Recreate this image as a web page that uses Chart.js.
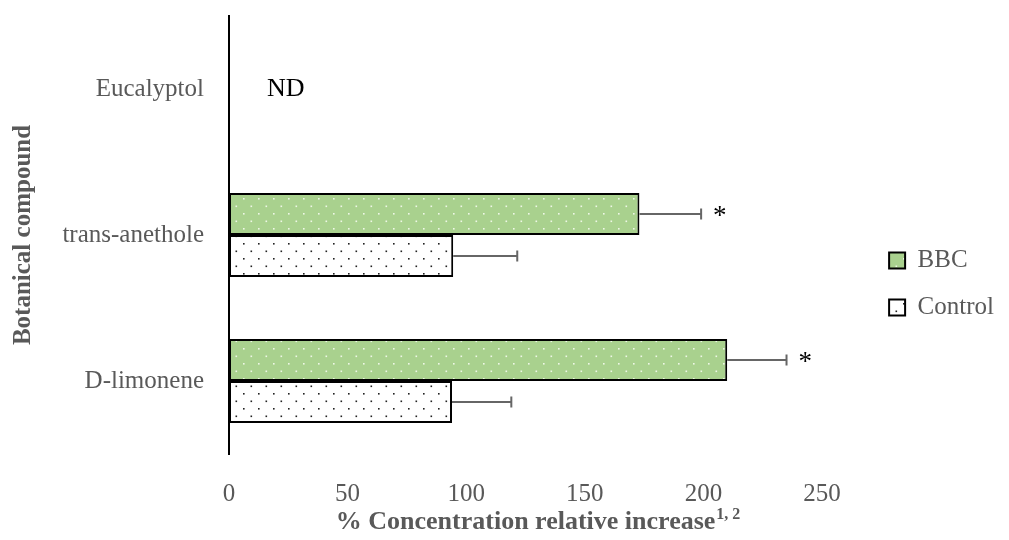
<!DOCTYPE html>
<html>
<head>
<meta charset="utf-8">
<script src="https://cdn.jsdelivr.net/npm/chart.js@4"></script>
<style>
  html, body { margin: 0; padding: 0; background: #fff; }
  #wrap { width: 1009px; height: 540px; }
</style>
</head>
<body>
<div id="wrap"><canvas id="chart" width="1009" height="540"></canvas></div>
<script>
const compounds = ['Eucalyptol', 'trans-anethole', 'D-limonene'];
const bbcValues = [null, 173, 210];
const bbcErrors = [null, 26, 25];
const controlValues = [null, 94.5, 94];
const controlErrors = [null, 27, 25];
const bbcSignificant = [false, true, true];
const notDetected = [true, false, false];
const xTicks = [0, 50, 100, 150, 200, 250];

const FONT = '"Liberation Serif", "DejaVu Serif", serif';
const GREY = '#595959';

// small dotted tiles used as bar fills
function dotPattern(bg, dot) {
    const tile = document.createElement('canvas');
    tile.width = 15;
    tile.height = 15;
    const t = tile.getContext('2d');
    t.fillStyle = bg;
    t.fillRect(0, 0, 15, 15);
    t.fillStyle = dot;
    t.fillRect(3, 3, 1.6, 1.6);
    t.fillRect(10.5, 10.5, 1.6, 1.6);
    return t.createPattern(tile, 'repeat');
}

const ctx = document.getElementById('chart').getContext('2d');
const bbcFill = dotPattern('#a9d18e', '#eef7e6');
const controlFill = dotPattern('#ffffff', '#222222');

// error bars, significance stars and the ND note
const barExtras = {
    id: 'barExtras',
    afterDatasetsDraw(chart) {
        const c = chart.ctx;
        const x = chart.scales.x;
        const y = chart.scales.y;
        const errs = [bbcErrors, controlErrors];
        c.save();
        chart.data.datasets.forEach((ds, di) => {
            const meta = chart.getDatasetMeta(di);
            meta.data.forEach((bar, i) => {
                const v = ds.data[i];
                if (v == null) return;
                const x0 = x.getPixelForValue(v);
                const x1 = x.getPixelForValue(v + errs[di][i]);
                c.strokeStyle = '#666666';
                c.lineWidth = 2;
                c.beginPath();
                c.moveTo(x0, bar.y);
                c.lineTo(x1, bar.y);
                c.moveTo(x1, bar.y - 5.5);
                c.lineTo(x1, bar.y + 5.5);
                c.stroke();
                if (di === 0 && bbcSignificant[i]) {
                    c.fillStyle = '#000';
                    c.font = '27px ' + FONT;
                    c.textAlign = 'left';
                    c.textBaseline = 'middle';
                    c.fillText('*', x1 + 12, bar.y + 3);
                }
            });
        });
        notDetected.forEach((nd, i) => {
            if (!nd) return;
            c.fillStyle = '#000';
            c.font = '26px ' + FONT;
            c.textAlign = 'left';
            c.textBaseline = 'middle';
            c.fillText('ND', x.getPixelForValue(0) + 38, y.getPixelForValue(i));
        });
        c.restore();
    }
};

// superscript footnote marks after the x axis title
const titleSup = {
    id: 'titleSup',
    afterDraw(chart) {
        const x = chart.scales.x;
        const t = x.options.title;
        const c = chart.ctx;
        c.save();
        c.font = 'bold 26px ' + FONT;
        const w = c.measureText(t.text).width;
        const cx = (x.left + x.right) / 2;
        const ty = x.bottom - 15.6 - t.padding.bottom;
        c.font = 'bold 16px ' + FONT;
        c.fillStyle = GREY;
        c.textAlign = 'left';
        c.textBaseline = 'middle';
        c.fillText('1, 2', cx + w / 2 + 1, ty - 8);
        c.restore();
    }
};

// keep the legend off the plot edge
const legendShift = {
    id: 'legendShift',
    afterLayout(chart) {
        const l = chart.legend;
        l.left += 45; l.right += 45;
        l.top += 6; l.bottom += 6;
    }
};

new Chart(ctx, {
    type: 'bar',
    data: {
        labels: compounds,
        datasets: [{
            label: 'BBC',
            data: bbcValues,
            backgroundColor: bbcFill,
            borderColor: '#000',
            borderWidth: 2,
            borderSkipped: false
        }, {
            label: 'Control',
            data: controlValues,
            backgroundColor: controlFill,
            borderColor: '#000',
            borderWidth: 2,
            borderSkipped: false
        }]
    },
    options: {
        indexAxis: 'y',
        responsive: false,
        animation: false,
        categoryPercentage: 0.575,
        barPercentage: 1.0,
        layout: { padding: { left: 0, top: 16, right: 50, bottom: 0 } },
        plugins: {
            legend: {
                position: 'right',
                labels: {
                    font: { family: FONT, size: 25 },
                    color: GREY,
                    boxWidth: 16,
                    boxHeight: 16,
                    padding: 22
                }
            },
            tooltip: { enabled: false }
        },
        scales: {
            x: {
                min: 0,
                max: 250,
                afterFit(scale) { scale.height = 86; },
                afterBuildTicks(scale) { scale.ticks = xTicks.map(v => ({ value: v })); },
                grid: { display: false, drawTicks: false },
                border: { display: false },
                ticks: {
                    padding: 25,
                    color: GREY,
                    font: { family: FONT, size: 25 }
                },
                title: {
                    display: true,
                    text: '% Concentration relative increase',
                    color: GREY,
                    font: { family: FONT, size: 26, weight: 'bold' },
                    padding: { top: 0, bottom: 2 }
                }
            },
            y: {
                afterFit(scale) {
                    scale.width = 229;
                    scale.paddingTop = 0;
                    scale.paddingBottom = 0;
                },
                grid: { display: false, drawTicks: false },
                border: { display: true, color: '#000', width: 2 },
                ticks: {
                    padding: 25,
                    color: GREY,
                    font: { family: FONT, size: 25 }
                },
                title: {
                    display: true,
                    text: 'Botanical compound',
                    color: GREY,
                    font: { family: FONT, size: 25, weight: 'bold' },
                    padding: { top: 9, bottom: 0 }
                }
            }
        }
    },
    plugins: [barExtras, titleSup, legendShift]
});
</script>
</body>
</html>
